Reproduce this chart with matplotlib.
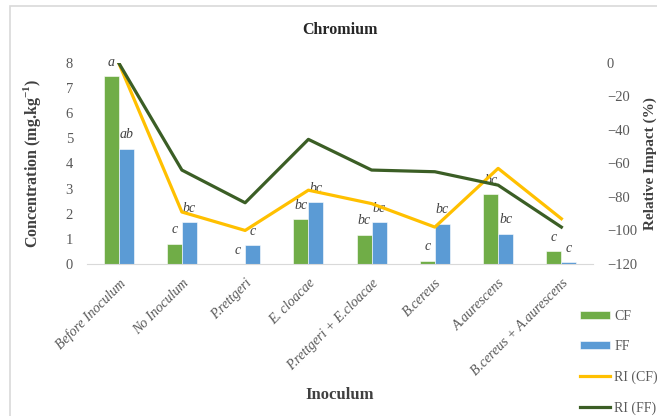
import numpy as np
import matplotlib
matplotlib.use("Agg")
from matplotlib import pyplot as plt
from matplotlib.patches import Rectangle

# data
categories = ["Before Inoculum", "No Inoculum", "P.rettgeri", "E. cloacae",
              "P.rettgeri + E.cloacae", "B.cereus", "A.aurescens",
              "B.cereus + A.aurescens"]
cf = [7.46, 0.80, 0.0, 1.78, 1.16, 0.13, 2.78, 0.51]
ff = [4.59, 1.66, 0.74, 2.46, 1.66, 1.60, 1.21, 0.07]
ri_cf = [0, -89, -100, -76, -84, -98, -63, -93]
ri_ff = [0, -64, -83.5, -45.7, -64, -65, -73, -98]
cf_letters = ["a", "c", "c", "bc", "bc", "c", "bc", "c"]
ff_letters = ["ab", "bc", "c", "bc", "bc", "bc", "bc", "c"]

c_cf = "#70AD47"
c_ff = "#5B9BD5"
c_ricf = "#FFC000"
c_riff = "#3B5E25"
grey = "#595959"

plt.rcParams["font.family"] = ["Liberation Serif", "DejaVu Serif"]
plt.rcParams["mathtext.fontset"] = "custom"
plt.rcParams["mathtext.rm"] = "Liberation Serif"
plt.rcParams["mathtext.bf"] = "Liberation Serif:bold"

fig = plt.figure(figsize=(6.57, 4.16), dpi=100)
ax = fig.add_axes([87 / 657, 1 - 264 / 416, 506 / 657, 201.3 / 416])
ax2 = ax.twinx()

# chart area border
fig.patches.append(Rectangle((10 / 657, -0.05), 1.2, 1.05 - 6 / 416,
                             transform=fig.transFigure, fill=False,
                             edgecolor="#D9D9D9", lw=1.2, zorder=0))

x = np.arange(len(categories))
w = 0.237
ax.bar(x - w / 2, cf, w, color=c_cf, edgecolor="white", linewidth=0.4, label="CF")
ax.bar(x + w / 2, ff, w, color=c_ff, edgecolor="white", linewidth=0.4, label="FF")

for i in range(len(x)):
    ax.annotate(cf_letters[i], (x[i] - w / 2, cf[i]), xytext=(0, 10),
                textcoords="offset points", ha="center", va="center",
                fontsize=10, style="italic", color="#404040", zorder=5)
    ax.annotate(ff_letters[i], (x[i] + w / 2, ff[i]), xytext=(0, 10),
                textcoords="offset points", ha="center", va="center",
                fontsize=10, style="italic", color="#404040", zorder=5)

ax2.plot(x, ri_cf, color=c_ricf, lw=2.3, label="RI (CF)")
ax2.plot(x, ri_ff, color=c_riff, lw=2.3, label="RI (FF)")

ax.set_xlim(-0.5, len(x) - 0.5)
ax.set_ylim(0, 8)
ax2.set_ylim(-120, 0)
ax.set_yticks(range(0, 9))
ax2.set_yticks(range(-120, 1, 20))

for a in (ax, ax2):
    for s in ("top", "left", "right"):
        a.spines[s].set_visible(False)
    a.spines["bottom"].set_color("#D9D9D9")
ax2.spines["bottom"].set_visible(False)

ax.tick_params(axis="y", length=0, labelsize=10.5, labelcolor=grey, pad=10)
ax2.tick_params(axis="y", length=0, labelsize=10.5, labelcolor=grey, pad=10)
ax.set_xticks(x)
ax.set_xticklabels(categories, rotation=45, ha="right", rotation_mode="anchor",
                   style="italic", fontsize=10, color=grey)
ax.tick_params(axis="x", length=0, pad=9)

ax.set_ylabel(r"Concentration (mg.kg$^{\mathbf{-1}}$)", fontsize=11.5,
              fontweight="bold", color="#404040")
ax.yaxis.set_label_coords(-0.087, 0.5)
ax2.set_ylabel("Relative Impact (%)", fontsize=11, fontweight="bold",
               color="#404040", rotation=90)
ax2.yaxis.set_label_coords(1.1, 0.5)
fig.text(340 / 657, 1 - 395 / 416, "Inoculum", ha="center", va="center",
         fontsize=12, fontweight="bold", color="#404040")
fig.text(340 / 657, 1 - 30 / 416, "Chromium", ha="center", va="center",
         fontsize=11.5, fontweight="bold", color="#262626")

h1, lb1 = ax.get_legend_handles_labels()
h2, lb2 = ax2.get_legend_handles_labels()
fig.legend(h1 + h2, lb1 + lb2, loc="upper left",
           bbox_to_anchor=(574 / 657, 1 - 304 / 416), frameon=False,
           fontsize=10, labelcolor=grey, handlelength=2.2, handleheight=0.5,
           labelspacing=1.25, handletextpad=0.3, borderaxespad=0)

fig.savefig("out.png", dpi=100)
